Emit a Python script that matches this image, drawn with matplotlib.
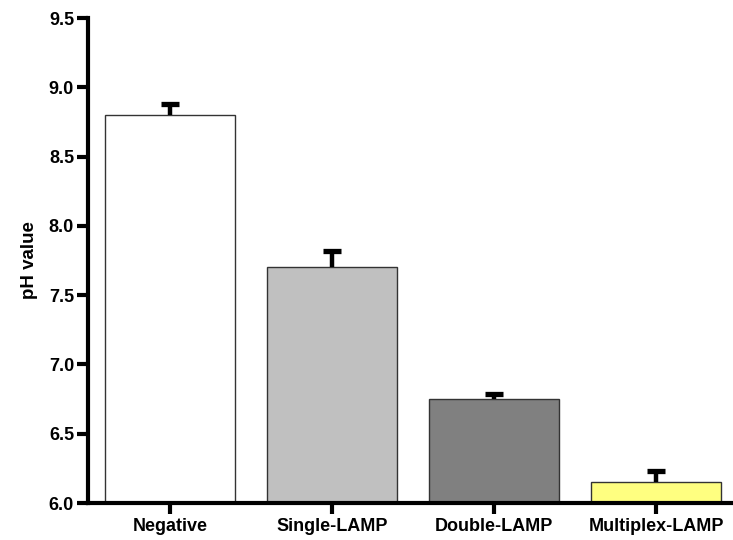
import matplotlib
matplotlib.use("Agg")
import matplotlib.pyplot as plt
import numpy as np

# ---------------------------------------------------------------------------
# Data
# ---------------------------------------------------------------------------
GROUPS  = ["Negative", "Single-LAMP", "Double-LAMP", "Multiplex-LAMP"]
PH_MEAN = [8.80, 7.70, 6.75, 6.15]
PH_SD   = [0.08, 0.12, 0.04, 0.08]
COLORS  = ["#FFFFFF", "#C0C0C0", "#808080", "#FFFF80"]

plt.rcParams["font.family"] = ["Liberation Sans", "DejaVu Sans"]
plt.rcParams["font.weight"] = "bold"

fig = plt.figure(figsize=(7.33, 5.4), dpi=100)
ax = fig.add_axes([0.12, 0.0685, 0.88, 0.898])

x = np.arange(len(GROUPS))
ax.bar(x, np.array(PH_MEAN) - 6.0, bottom=6.0, width=0.80, color=COLORS,
       edgecolor="#333333", linewidth=1.0, zorder=2)
# upper-only error bars (lower cap hidden)
_, caps, _ = ax.errorbar(x, PH_MEAN, yerr=[np.zeros(len(PH_SD)), PH_SD],
                         fmt="none", ecolor="black", elinewidth=3.2,
                         capsize=6.5, capthick=3.8, zorder=3)
caps[0].set_visible(False)
for c in caps:
    c.set_solid_capstyle("round")

ax.set_xlim(-0.506, 3.475)
ax.set_ylim(6.0, 9.5)
ax.set_yticks(np.arange(6.0, 9.51, 0.5))
ax.set_yticklabels([f"{v:.1f}" for v in np.arange(6.0, 9.51, 0.5)])
ax.set_xticks(x)
ax.set_xticklabels(GROUPS)
ax.set_ylabel("pH value", fontsize=13.5, fontweight="bold", labelpad=8)

for sp in ("top", "right"):
    ax.spines[sp].set_visible(False)
for sp in ("left", "bottom"):
    ax.spines[sp].set_linewidth(3)
ax.tick_params(axis="both", width=3, length=8, labelsize=13, direction="out")
ax.tick_params(axis="x", pad=3)
ax.tick_params(axis="y", pad=2)

fig.savefig("out.png", dpi=100)
